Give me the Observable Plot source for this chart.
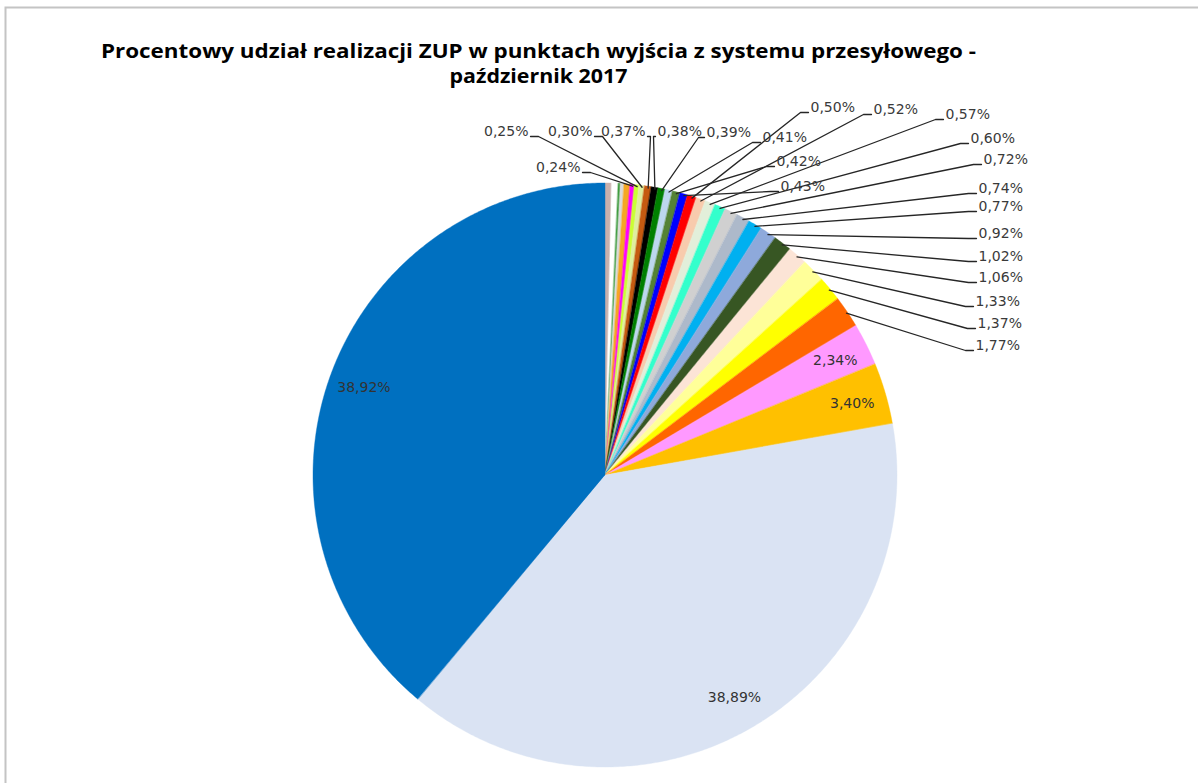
<!DOCTYPE html>
<html>
<head>
<meta charset="utf-8">
<script src="https://cdn.jsdelivr.net/npm/d3@7"></script>
<script src="https://cdn.jsdelivr.net/npm/@observablehq/plot@0.6"></script>
<style>
  html, body { margin: 0; padding: 0; background: #ffffff; overflow: hidden; }
  #chart svg { display: block; }
</style>
</head>
<body>
<div id="chart"></div>
<script>
// ---- chart content -------------------------------------------------------
const titleLines = [
  "Procentowy udział realizacji ZUP w punktach wyjścia z systemu przesyłowego -",
  "październik 2017"
];

// Shares of each exit point in percent, clockwise from 12 o'clock.
// The first five are small unlabelled points.
const shares = [
  0.36, 0.36, 0.12, 0.20, 0.33,
  0.24, 0.25, 0.30, 0.37, 0.38, 0.39, 0.41, 0.42, 0.43,
  0.50, 0.52, 0.57, 0.60, 0.72, 0.74, 0.77, 0.92, 1.02, 1.06, 1.33, 1.37, 1.77,
  2.34, 3.40, 38.89, 38.92
];

const sliceColors = [
  "#c8b0ac", "#ffffff", "#3f9c3f", "#dadada", "#f5a623",
  "#ff00ff", "#ccff33", "#dfeea0", "#c55a11", "#000000", "#008000", "#bdd7ee", "#548235", "#0000ff",
  "#ff0000", "#f8cbad", "#e2efda", "#33ffcc", "#d0d0d0", "#adb9ca", "#00b0f0", "#8ea9db", "#375623",
  "#fce4d6", "#ffff99", "#ffff00", "#ff6600",
  "#ff99ff", "#ffc000", "#dae3f3", "#0070c0"
];

// How each share is labelled: none, outside with a leader line, or inside the slice.
const labelMode = shares.map((_, i) => i < 5 ? "none" : i < 27 ? "out" : "in");

// ---- layout ----------------------------------------------------------------
const W = 1198, H = 783;
const CX = 605, CY = 475, R = 292;          // pie centre and radius (px)
const toUX = px => (px - CX) / R;           // px -> pie units
const toUY = py => (CY - py) / R;

// Callout placement for the outside labels, in order:
// [text x (px), text middle y (px), side of the text the leader attaches to, stub length]
const calloutLayout = [
  [580, 167, "L", 8],  // 0,24
  [528, 131, "L", 8],  // 0,25
  [592, 131, "L", 8],  // 0,30
  [645, 131, "L", 3],  // 0,37
  [657, 131, "R", 2],  // 0,38
  [706, 132, "R", 6],  // 0,39
  [762, 137, "R", 8],  // 0,41
  [776, 161, "R", 8],  // 0,42
  [780, 186, "R", 8],  // 0,43
  [810, 107, "R", 8],  // 0,50
  [873, 109, "R", 8],  // 0,52
  [945, 114, "R", 8],  // 0,57
  [970, 138, "R", 8],  // 0,60
  [983, 159, "R", 8],  // 0,72
  [978, 188, "R", 8],  // 0,74
  [978, 206, "R", 8],  // 0,77
  [978, 233, "R", 8],  // 0,92
  [978, 256, "R", 8],  // 1,02
  [978, 277, "R", 8],  // 1,06
  [975, 301, "R", 8],  // 1,33
  [977, 323, "R", 8],  // 1,37
  [975, 345, "R", 8]   // 1,77
];
const titleAt = { x: 538, y: [51, 76], width: [875, 178] };

// ---- derived geometry --------------------------------------------------------
const fmt = v => v.toFixed(2).replace(".", ",") + "%";

let cum = 0;
const slices = shares.map((v, i) => {
  const a0 = cum / 100 * 2 * Math.PI;
  cum += v;
  const a1 = cum / 100 * 2 * Math.PI;
  return { i, v, a0, a1, mid: (a0 + a1) / 2, mode: labelMode[i] };
});

// Wedges: arc points from start to end angle, closed back to the centre by the area baseline.
const wedgeRows = slices.flatMap(s => {
  const n = Math.max(2, Math.ceil((s.a1 - s.a0) / (Math.PI / 360)));
  return d3.range(n + 1).map(k => {
    const a = s.a0 + (s.a1 - s.a0) * k / n;
    return { slice: s.i, x2: Math.sin(a), y2: Math.cos(a) };
  });
});

const outside = slices.filter(s => s.mode === "out").map((s, k) => {
  const [tx, ty, side, stub] = calloutLayout[k];
  return { ...s, tx, ty, side, stub, text: fmt(s.v) };
});
const inside = slices.filter(s => s.mode === "in").map(s => ({ ...s, text: fmt(s.v) }));

const leaderRows = outside.flatMap(d => {
  const dir = d.side === "R" ? -1 : 1;
  const endX = d.tx + dir * 2, lineY = d.ty + 5;
  return [
    { label: d.i, x: Math.sin(d.mid) * 0.995, y: Math.cos(d.mid) * 0.995 },
    { label: d.i, x: toUX(endX + dir * d.stub), y: toUY(lineY) },
    { label: d.i, x: toUX(endX), y: toUY(lineY) }
  ];
});

const labelFont = "'DejaVu Sans', 'Open Sans', sans-serif";
const titleFont = "'Open Sans', 'DejaVu Sans', sans-serif";

const chart = Plot.plot({
  width: W,
  height: H,
  margin: 0,
  x: { type: "linear", domain: [toUX(0), toUX(W)], range: [0, W], axis: null },
  y: { type: "linear", domain: [toUY(H), toUY(0)], range: [H, 0], axis: null },
  color: { type: "ordinal", domain: d3.range(shares.length), range: sliceColors },
  style: { fontFamily: labelFont, background: "#ffffff" },
  marks: [
    Plot.frame({ stroke: "#c4c4c4", strokeWidth: 2, insetLeft: 5, insetTop: 7, insetRight: -6, insetBottom: -6 }),
    Plot.area(wedgeRows, {
      x1: () => 0, y1: () => 0, x2: "x2", y2: "y2",
      z: "slice", fill: "slice", stroke: "slice", strokeWidth: 0.4, curve: "linear"
    }),
    Plot.line(leaderRows, { x: "x", y: "y", z: "label", stroke: "#262626", strokeWidth: 1.3, curve: "linear" }),
    Plot.text(outside.filter(d => d.side === "R"), {
      x: d => toUX(d.tx), y: d => toUY(d.ty), text: "text",
      textAnchor: "start", fontSize: 14, fill: "#3a3a3a"
    }),
    Plot.text(outside.filter(d => d.side === "L"), {
      x: d => toUX(d.tx), y: d => toUY(d.ty), text: "text",
      textAnchor: "end", fontSize: 14, fill: "#3a3a3a"
    }),
    Plot.text(inside, {
      x: d => 0.88 * Math.sin(d.mid), y: d => 0.88 * Math.cos(d.mid), text: "text",
      fontSize: 14, fill: "#333333"
    }),
    Plot.text(titleLines, {
      x: () => toUX(titleAt.x), y: (d, i) => toUY(titleAt.y[i]), text: d => d,
      fontSize: 19, fontWeight: "bold", fill: "#000000", fontFamily: titleFont
    })
  ]
});

// Stretch the title lines to their set widths.
chart.querySelectorAll("text").forEach(t => {
  const k = titleLines.indexOf(t.textContent);
  if (k >= 0) {
    t.setAttribute("textLength", titleAt.width[k]);
    t.setAttribute("lengthAdjust", "spacingAndGlyphs");
  }
});

document.getElementById("chart").append(chart);
</script>
</body>
</html>
